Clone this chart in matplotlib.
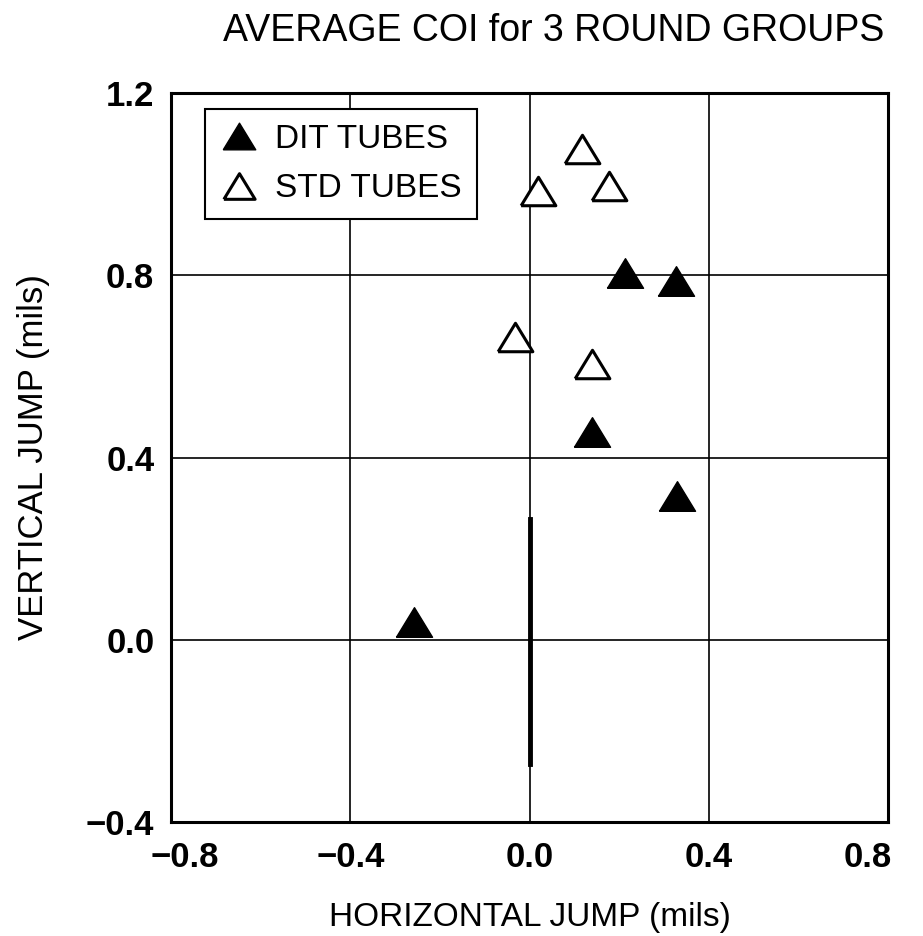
import matplotlib.pyplot as plt
from matplotlib.transforms import ScaledTranslation

# average center-of-impact jump, 3 round groups
dit_x = [-0.257, 0.212, 0.327, 0.140, 0.330]
dit_y = [0.039, 0.806, 0.787, 0.455, 0.316]

std_x = [0.118, 0.019, 0.178, -0.033, 0.139]
std_y = [1.077, 0.986, 0.996, 0.665, 0.605]

xticks = [-0.8, -0.4, 0.0, 0.4, 0.8]
yticks = [-0.4, 0.0, 0.4, 0.8, 1.2]

plt.rcParams["font.family"] = ["Liberation Sans", "DejaVu Sans"]


def fmt(v):
    return f"{v:.1f}".replace("-", "\u2212")


# slightly flattened triangle
tri = [(-1.0, -0.82), (1.0, -0.82), (0.0, 0.82), (-1.0, -0.82)]

fig = plt.figure(figsize=(9.23, 9.36), dpi=100)
ax = fig.add_axes([0.1853, 0.1218, 0.7768, 0.7788])

ax.set_xlim(-0.8, 0.8)
ax.set_ylim(-0.4, 1.2)
ax.set_xticks(xticks, [fmt(t) for t in xticks])
ax.set_yticks(yticks, [fmt(t) for t in yticks])
ax.tick_params(length=0, labelsize=25)
ax.tick_params(axis="x", pad=14)
ax.tick_params(axis="y", pad=12)
for lbl in ax.get_xticklabels() + ax.get_yticklabels():
    lbl.set_fontweight("bold")

# pull the end labels in toward the plot
xl = ax.get_xticklabels()
xl[0].set_transform(xl[0].get_transform() + ScaledTranslation(0.14, 0, fig.dpi_scale_trans))
xl[-1].set_transform(xl[-1].get_transform() + ScaledTranslation(-0.2, 0, fig.dpi_scale_trans))

ax.grid(True, color="black", lw=1.2)
ax.set_axisbelow(True)
for s in ax.spines.values():
    s.set_linewidth(2.2)

# heavy stroke on the zero line
ax.plot([0, 0], [-0.273, 0.264], color="black", lw=3.5, zorder=1)

ax.plot(dit_x, dit_y, ls="none", marker=tri, ms=26, color="black",
        label="DIT TUBES", zorder=3)
ax.plot(std_x, std_y, ls="none", marker=tri, ms=25, mfc="white",
        mec="black", mew=2.2, label="STD TUBES", zorder=3)

leg = ax.legend(loc="upper left", bbox_to_anchor=(0.048, 0.978), fontsize=24,
                frameon=True, fancybox=False, edgecolor="black",
                borderaxespad=0, handletextpad=0.55, labelspacing=0.55,
                borderpad=0.45, handlelength=1.1, markerscale=0.9)
leg.get_frame().set_linewidth(1.5)
leg.get_frame().set_alpha(1)

ax.set_xlabel("HORIZONTAL JUMP (mils)", fontsize=24, labelpad=20)
ax.set_ylabel("VERTICAL JUMP (mils)", fontsize=25, labelpad=26)
fig.text(0.6, 0.967, "AVERAGE COI for 3 ROUND GROUPS", fontsize=27,
         ha="center", va="center")

fig.savefig("out.png", dpi=100)
